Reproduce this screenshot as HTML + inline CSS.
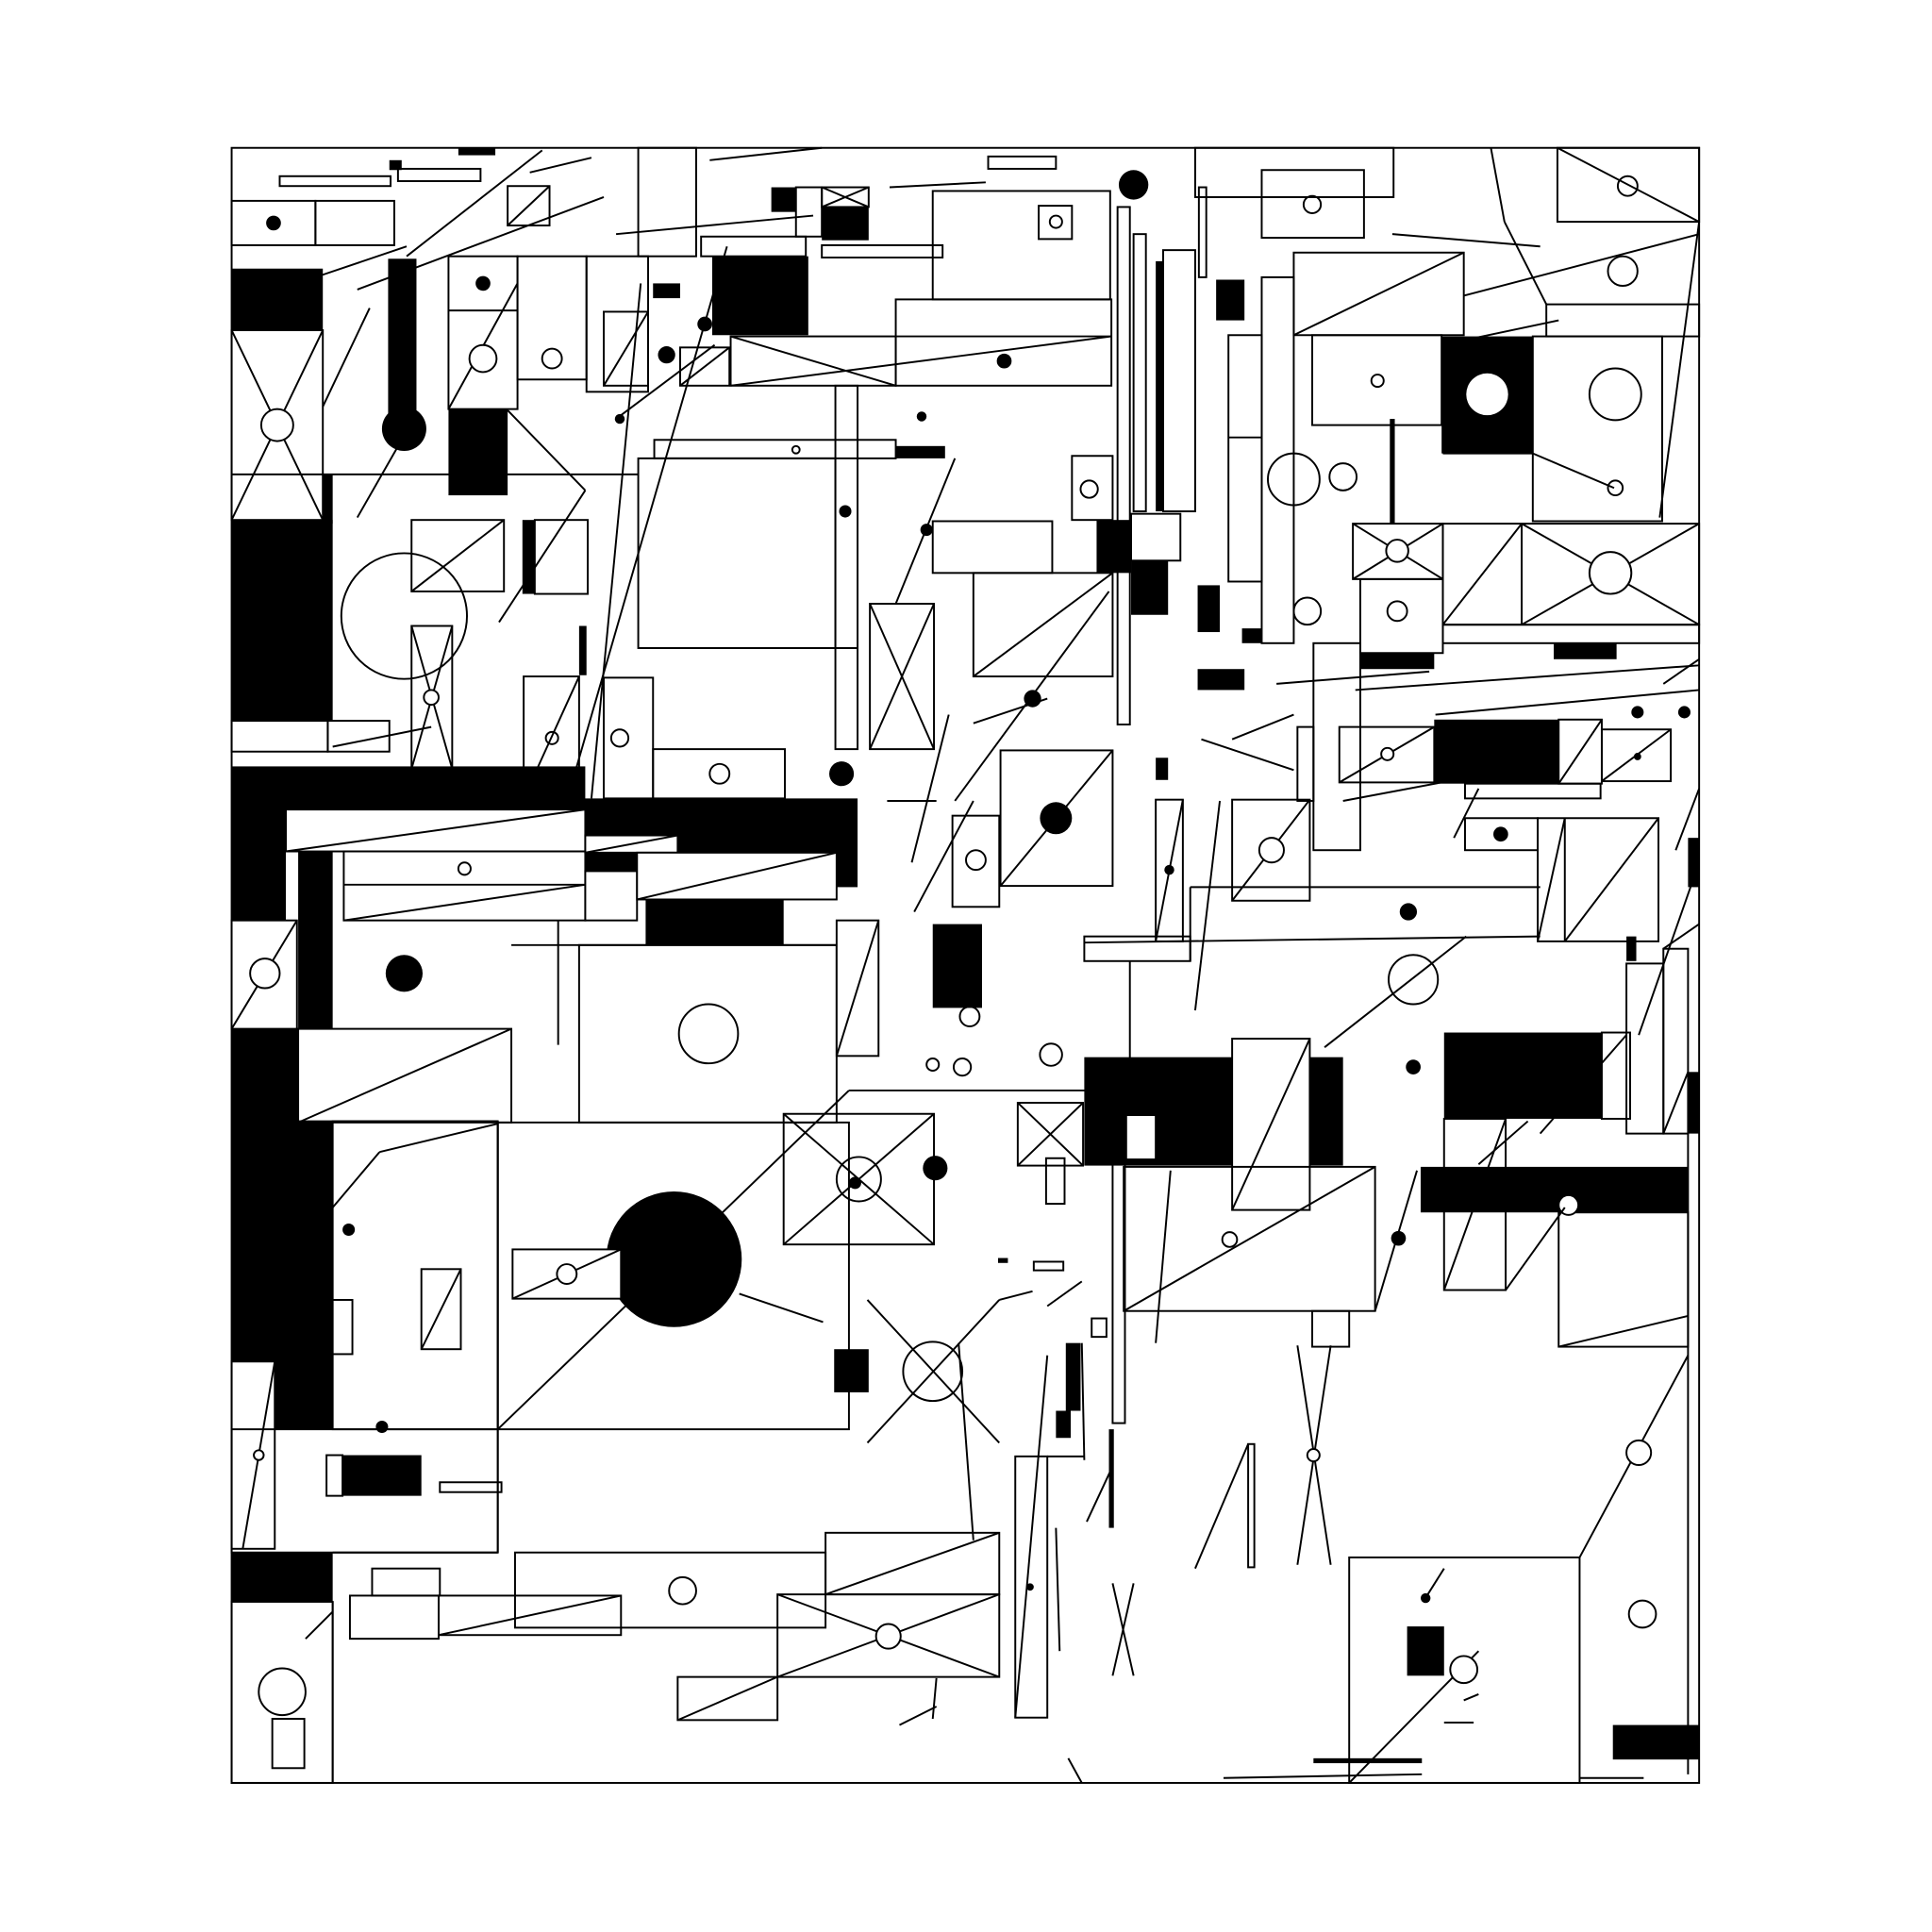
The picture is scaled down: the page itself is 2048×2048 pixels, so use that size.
<!DOCTYPE html>
<html><head><style>html,body{margin:0;padding:0;background:#fff}svg{display:block}</style></head><body>
<svg width="2048" height="2048" viewBox="0 0 1568 1568" xmlns="http://www.w3.org/2000/svg">
<rect width="1568" height="1568" fill="#fff"/>
<g fill="#000" stroke="none">
<rect x="188" y="218" width="74" height="50"/>
<rect x="188" y="422" width="82" height="163"/>
<rect x="262" y="385" width="8" height="40"/>
<rect x="188" y="622" width="287" height="36"/>
<rect x="188" y="657" width="44" height="93"/>
<rect x="242" y="690" width="28" height="145"/>
<rect x="474" y="648" width="222" height="72"/>
<rect x="524" y="730" width="112" height="37"/>
<rect x="188" y="835" width="54" height="75"/>
<rect x="188" y="910" width="82" height="195"/>
<rect x="223" y="1100" width="47" height="60"/>
<rect x="188" y="1260" width="82" height="40"/>
<rect x="315" y="210" width="23" height="150"/>
<circle cx="328" cy="348" r="18"/>
<rect x="364" y="332" width="48" height="70"/>
<rect x="578" y="208" width="78" height="64"/>
<rect x="626" y="152" width="20" height="20"/>
<rect x="667" y="168" width="38" height="27"/>
<rect x="372" y="120" width="30" height="6"/>
<rect x="727" y="362" width="40" height="10"/>
<rect x="757" y="750" width="40" height="68"/>
<rect x="880" y="858" width="210" height="88"/>
<rect x="1172" y="838" width="128" height="70"/>
<rect x="1153" y="947" width="217" height="37"/>
<rect x="1170" y="273" width="74" height="95"/>
<rect x="1164" y="584" width="101" height="52"/>
<rect x="918" y="455" width="30" height="44"/>
<rect x="890" y="422" width="28" height="43"/>
<rect x="987" y="227" width="23" height="33"/>
<rect x="972" y="543" width="38" height="17"/>
<rect x="972" y="475" width="18" height="38"/>
<rect x="1309" y="1400" width="70" height="28"/>
<rect x="1142" y="1320" width="30" height="40"/>
<rect x="677" y="1095" width="28" height="35"/>
<rect x="278" y="1181" width="64" height="33"/>
<rect x="1261" y="522" width="51" height="13"/>
<rect x="1104" y="530" width="60" height="13"/>
<rect x="938" y="212" width="6" height="203"/>
<rect x="1128" y="340" width="4" height="85"/>
<rect x="424" y="422" width="10" height="60"/>
<rect x="470" y="508" width="6" height="40"/>
<rect x="530" y="230" width="22" height="12"/>
<rect x="865" y="1090" width="12" height="55"/>
<rect x="857" y="1145" width="12" height="22"/>
<rect x="1370" y="680" width="9" height="40"/>
<rect x="1370" y="870" width="9" height="50"/>
<rect x="1320" y="760" width="8" height="20"/>
<rect x="900" y="1160" width="4" height="80"/>
<rect x="1066" y="1427" width="88" height="4"/>
<rect x="316" y="130" width="10" height="8"/>
<rect x="938" y="615" width="10" height="18"/>
<rect x="1008" y="510" width="16" height="12"/>
<rect x="810" y="1021" width="8" height="4"/>
<circle cx="547" cy="1022" r="55"/>
<circle cx="222" cy="181" r="6"/><circle cx="920" cy="150" r="12"/>
<circle cx="857" cy="664" r="13"/><circle cx="683" cy="628" r="10"/>
<circle cx="759" cy="948" r="10"/><circle cx="328" cy="873" r="8"/>
<circle cx="328" cy="790" r="15"/><circle cx="255" cy="1077" r="7"/>
<circle cx="1143" cy="740" r="7"/><circle cx="1147" cy="866" r="6"/>
<circle cx="1135" cy="1005" r="6"/><circle cx="838" cy="567" r="7"/>
<circle cx="815" cy="293" r="6"/><circle cx="541" cy="288" r="7"/>
<circle cx="572" cy="263" r="6"/><circle cx="392" cy="230" r="6"/>
<circle cx="310" cy="1158" r="5"/><circle cx="283" cy="998" r="5"/>
<circle cx="1218" cy="677" r="6"/><circle cx="1329" cy="578" r="5"/>
<circle cx="1367" cy="578" r="5"/><circle cx="686" cy="415" r="5"/>
<circle cx="752" cy="430" r="5"/><circle cx="748" cy="338" r="4"/>
<circle cx="694" cy="960" r="5"/><circle cx="1157" cy="1297" r="4"/>
<circle cx="836" cy="1288" r="3"/><circle cx="503" cy="340" r="4"/>
<circle cx="949" cy="706" r="4"/><circle cx="1329" cy="614" r="3"/>
</g>
<g fill="none" stroke="#000" stroke-width="1.5">
<rect x="188" y="120" width="1191" height="1327"/>
<rect x="470" y="767" width="209" height="144" fill="#fff"/><circle cx="575" cy="839" r="24"/>
<rect x="242" y="835" width="173" height="76" fill="#fff"/><line x1="242" y1="911" x2="415" y2="835"/>
<rect x="232" y="657" width="243" height="34" fill="#fff"/><line x1="232" y1="691" x2="475" y2="657"/>
<rect x="279" y="691" width="196" height="56" fill="#fff"/><line x1="279" y1="718" x2="475" y2="718"/><line x1="279" y1="747" x2="475" y2="718"/><circle cx="377" cy="705" r="5"/>
<rect x="475" y="678" width="75" height="14" fill="#fff"/><line x1="475" y1="692" x2="550" y2="678"/>
<rect x="475" y="707" width="42" height="40" fill="#fff"/>
<rect x="517" y="692" width="162" height="38" fill="#fff"/><line x1="517" y1="730" x2="679" y2="692"/>
<rect x="530" y="608" width="107" height="40" fill="#fff"/><circle cx="584" cy="628" r="8" fill="#fff"/>
<rect x="188" y="268" width="74" height="154"/><line x1="188" y1="268" x2="262" y2="422"/><line x1="262" y1="268" x2="188" y2="422"/><circle cx="225" cy="345" r="13" fill="#fff"/>
<rect x="188" y="585" width="78" height="25"/><rect x="266" y="585" width="50" height="25"/>
<rect x="188" y="747" width="53" height="88" fill="#fff"/><line x1="188" y1="835" x2="241" y2="747"/><circle cx="215" cy="790" r="12" fill="#fff"/>
<rect x="188" y="1105" width="35" height="152"/><line x1="197" y1="1257" x2="223" y2="1105"/><circle cx="210" cy="1181" r="4" fill="#fff"/>
<rect x="224" y="1055" width="62" height="44"/>
<rect x="270" y="910" width="134" height="250"/><line x1="270" y1="980" x2="308" y2="935"/><line x1="308" y1="935" x2="404" y2="912"/>
<rect x="342" y="1030" width="32" height="65"/><line x1="342" y1="1095" x2="374" y2="1030"/>
<rect x="404" y="911" width="285" height="249"/><line x1="404" y1="1160" x2="689" y2="885"/>
<rect x="416" y="1014" width="88" height="40" fill="#fff"/><line x1="416" y1="1054" x2="504" y2="1014"/><circle cx="460" cy="1034" r="8" fill="#fff"/>
<rect x="636" y="904" width="122" height="106"/><line x1="636" y1="904" x2="758" y2="1010"/><line x1="758" y1="904" x2="636" y2="1010"/><circle cx="697" cy="957" r="18"/>
<circle cx="757" cy="1113" r="24"/><line x1="704" y1="1055" x2="811" y2="1171"/><line x1="811" y1="1055" x2="704" y2="1171"/>
<rect x="188" y="1160" width="216" height="100"/>
<rect x="265" y="1181" width="13" height="33"/>
<rect x="357" y="1203" width="50" height="8"/>
<rect x="188" y="1300" width="82" height="147"/><circle cx="229" cy="1373" r="19"/><rect x="221" y="1395" width="26" height="40"/>
<rect x="284" y="1295" width="72" height="35"/><rect x="302" y="1273" width="55" height="22"/>
<line x1="356" y1="1327" x2="504" y2="1295"/><rect x="356" y="1295" width="148" height="32"/>
<rect x="418" y="1260" width="252" height="61"/><circle cx="554" cy="1291" r="11"/>
<rect x="670" y="1244" width="141" height="50"/><line x1="670" y1="1294" x2="811" y2="1244"/>
<rect x="631" y="1294" width="180" height="67"/><line x1="631" y1="1294" x2="811" y2="1361"/><line x1="811" y1="1294" x2="631" y2="1361"/><circle cx="721" cy="1328" r="10" fill="#fff"/>
<rect x="550" y="1361" width="81" height="35"/><line x1="550" y1="1396" x2="631" y2="1361"/>
<rect x="824" y="1182" width="26" height="212"/><line x1="824" y1="1394" x2="850" y2="1100"/>
<rect x="1095" y="1264" width="187" height="183"/><line x1="1095" y1="1447" x2="1200" y2="1340"/><circle cx="1188" cy="1355" r="11" fill="#fff"/>
<line x1="1282" y1="1264" x2="1370" y2="1100"/><circle cx="1330" cy="1179" r="10" fill="#fff"/><circle cx="1333" cy="1310" r="11"/>
<line x1="1370" y1="920" x2="1370" y2="1440"/>
<rect x="1265" y="984" width="105" height="109"/><line x1="1265" y1="1093" x2="1370" y2="1068"/>
<rect x="1172" y="908" width="50" height="139"/><line x1="1172" y1="1047" x2="1222" y2="908"/>
<rect x="1000" y="843" width="63" height="139" fill="#fff"/><line x1="1000" y1="982" x2="1063" y2="843"/>
<rect x="912" y="947" width="204" height="117"/><line x1="912" y1="1064" x2="1116" y2="947"/><circle cx="998" cy="1006" r="6" fill="#fff"/>
<rect x="914" y="905" width="24" height="36" fill="#fff"/>
<rect x="1065" y="1064" width="30" height="29"/>
<rect x="1300" y="838" width="23" height="70" fill="#fff"/>
<line x1="1053" y1="1092" x2="1080" y2="1270"/><line x1="1080" y1="1092" x2="1053" y2="1270"/><circle cx="1066" cy="1181" r="5" fill="#fff"/>
<rect x="1013" y="1172" width="5" height="100"/>
<rect x="903" y="940" width="10" height="215"/>
<rect x="826" y="895" width="53" height="51"/><line x1="826" y1="895" x2="879" y2="946"/><line x1="879" y1="895" x2="826" y2="946"/>
<rect x="880" y="760" width="86" height="20"/>
<line x1="880" y1="765" x2="1250" y2="760"/>
<rect x="1050" y="205" width="138" height="67"/><line x1="1050" y1="272" x2="1188" y2="205"/>
<rect x="1065" y="272" width="105" height="73"/><circle cx="1118" cy="309" r="5"/>
<circle cx="1207" cy="320" r="17" fill="#fff" stroke="none"/>
<rect x="1244" y="273" width="105" height="150"/><circle cx="1311" cy="320" r="21"/>
<rect x="1264" y="120" width="115" height="60"/><line x1="1264" y1="120" x2="1379" y2="180"/><circle cx="1321" cy="151" r="8"/>
<rect x="1255" y="247" width="124" height="26"/>
<rect x="1024" y="138" width="83" height="55"/><circle cx="1065" cy="166" r="7"/>
<rect x="970" y="120" width="161" height="40"/>
<rect x="1098" y="425" width="73" height="45"/><line x1="1098" y1="425" x2="1171" y2="470"/><line x1="1171" y1="425" x2="1098" y2="470"/><circle cx="1134" cy="447" r="9" fill="#fff"/>
<rect x="1171" y="425" width="208" height="82"/><line x1="1171" y1="507" x2="1235" y2="425"/><line x1="1235" y1="425" x2="1379" y2="507"/><line x1="1235" y1="507" x2="1379" y2="425"/><line x1="1235" y1="425" x2="1235" y2="507"/><circle cx="1307" cy="465" r="17" fill="#fff"/>
<rect x="1171" y="507" width="208" height="15"/>
<rect x="1104" y="470" width="67" height="60"/><circle cx="1134" cy="496" r="8"/>
<rect x="1087" y="590" width="77" height="45"/><line x1="1087" y1="635" x2="1164" y2="590"/><circle cx="1126" cy="612" r="5" fill="#fff"/>
<rect x="1265" y="584" width="35" height="52"/><line x1="1265" y1="636" x2="1300" y2="584"/>
<rect x="1300" y="592" width="56" height="42"/><line x1="1300" y1="634" x2="1356" y2="592"/>
<rect x="1248" y="664" width="98" height="100"/><line x1="1270" y1="764" x2="1346" y2="664"/><line x1="1248" y1="764" x2="1270" y2="664"/><line x1="1270" y1="664" x2="1270" y2="764"/>
<rect x="1189" y="664" width="59" height="26"/>
<rect x="1000" y="649" width="63" height="82"/><line x1="1000" y1="731" x2="1063" y2="649"/><circle cx="1032" cy="690" r="10" fill="#fff"/>
<rect x="938" y="649" width="22" height="115"/><line x1="938" y1="764" x2="960" y2="649"/>
<rect x="812" y="609" width="91" height="110"/><line x1="812" y1="719" x2="903" y2="609"/>
<rect x="773" y="662" width="38" height="74"/><circle cx="792" cy="698" r="8" fill="#fff"/>
<rect x="679" y="747" width="34" height="110" fill="#fff"/><line x1="679" y1="857" x2="713" y2="747"/>
<rect x="706" y="490" width="52" height="118"/><line x1="706" y1="490" x2="758" y2="608"/><line x1="758" y1="490" x2="706" y2="608"/>
<rect x="790" y="465" width="113" height="84"/><line x1="790" y1="549" x2="903" y2="465"/>
<rect x="757" y="423" width="97" height="42"/>
<rect x="727" y="243" width="175" height="70"/><line x1="593" y1="313" x2="902" y2="273"/><line x1="727" y1="273" x2="902" y2="273"/>
<rect x="593" y="273" width="134" height="40"/><line x1="593" y1="273" x2="727" y2="313"/>
<rect x="531" y="357" width="196" height="15"/><circle cx="646" cy="365" r="3"/>
<rect x="518" y="372" width="160" height="154"/>
<line x1="518" y1="526" x2="696" y2="526"/><rect x="678" y="313" width="18" height="295"/>
<rect x="490" y="550" width="40" height="98"/><circle cx="503" cy="599" r="7"/>
<rect x="425" y="549" width="45" height="99"/><line x1="425" y1="648" x2="470" y2="549"/><circle cx="448" cy="599" r="5"/>
<rect x="334" y="422" width="75" height="58" fill="#fff"/><line x1="334" y1="480" x2="409" y2="422"/>
<rect x="434" y="422" width="43" height="60"/>
<rect x="334" y="508" width="33" height="116"/><line x1="334" y1="508" x2="367" y2="624"/><line x1="367" y1="508" x2="334" y2="624"/><circle cx="350" cy="566" r="6" fill="#fff"/>
<circle cx="328" cy="500" r="51"/>
<rect x="364" y="208" width="56" height="124"/><line x1="364" y1="252" x2="420" y2="252"/><line x1="364" y1="332" x2="420" y2="230"/><circle cx="392" cy="291" r="11" fill="#fff"/>
<rect x="420" y="208" width="56" height="100"/><circle cx="448" cy="291" r="8"/>
<rect x="476" y="208" width="50" height="110"/><rect x="490" y="253" width="36" height="60"/><line x1="490" y1="313" x2="526" y2="253"/>
<rect x="552" y="282" width="40" height="31"/><line x1="552" y1="313" x2="592" y2="282"/>
<rect x="256" y="163" width="64" height="36"/><rect x="188" y="163" width="68" height="36"/>
<rect x="227" y="143" width="90" height="8"/><rect x="323" y="137" width="67" height="10"/>
<rect x="412" y="151" width="34" height="32"/><line x1="412" y1="183" x2="446" y2="151"/>
<rect x="518" y="120" width="47" height="88"/>
<rect x="569" y="192" width="85" height="16"/><rect x="646" y="152" width="21" height="40"/><rect x="667" y="152" width="38" height="16"/><line x1="667" y1="152" x2="705" y2="168"/><line x1="705" y1="152" x2="667" y2="168"/>
<rect x="667" y="199" width="98" height="10"/>
<rect x="757" y="155" width="144" height="88"/><rect x="843" y="167" width="27" height="27"/><circle cx="857" cy="180" r="5"/>
<rect x="802" y="127" width="55" height="10"/>
<rect x="870" y="370" width="33" height="52"/><circle cx="884" cy="397" r="7"/>
<rect x="907" y="168" width="10" height="420"/><rect x="920" y="190" width="10" height="225"/>
<rect x="944" y="203" width="26" height="212"/>
<rect x="918" y="417" width="40" height="38"/>
<rect x="973" y="152" width="6" height="73"/>
<rect x="997" y="272" width="27" height="200"/><line x1="997" y1="355" x2="1024" y2="355"/>
<rect x="1024" y="225" width="26" height="297"/><circle cx="1050" cy="389" r="21"/><circle cx="1090" cy="387" r="11"/><circle cx="1061" cy="496" r="11"/>
<rect x="1053" y="590" width="13" height="60"/>
<rect x="1066" y="522" width="38" height="168"/>
<rect x="1189" y="636" width="110" height="12"/>
<rect x="1320" y="782" width="30" height="138"/><rect x="1350" y="770" width="20" height="150"/><line x1="1350" y1="920" x2="1370" y2="870"/>
<line x1="1379" y1="180" x2="1347" y2="420"/>
<circle cx="1317" cy="220" r="12"/><circle cx="1311" cy="396" r="6"/>
<line x1="1171" y1="368" x2="1244" y2="368"/><line x1="1244" y1="368" x2="1310" y2="396"/>
<circle cx="1147" cy="795" r="20"/><circle cx="1273" cy="978" r="8" fill="#fff"/>
<circle cx="853" cy="856" r="9"/><circle cx="787" cy="825" r="8"/><circle cx="757" cy="864" r="5"/><circle cx="781" cy="866" r="7"/>
<rect x="849" y="940" width="15" height="37"/><rect x="839" y="1024" width="24" height="7"/>
<rect x="886" y="1070" width="12" height="15"/>
<line x1="188" y1="385" x2="518" y2="385"/><line x1="188" y1="910" x2="404" y2="910"/>
<line x1="404" y1="911" x2="404" y2="1260"/><line x1="270" y1="1300" x2="270" y2="1447"/>
<line x1="270" y1="1260" x2="404" y2="1260"/>
<line x1="689" y1="885" x2="917" y2="885"/><line x1="917" y1="780" x2="917" y2="885"/>
<line x1="453" y1="747" x2="453" y2="848"/><line x1="415" y1="767" x2="679" y2="767"/>
<line x1="576" y1="130" x2="667" y2="120"/><line x1="722" y1="152" x2="800" y2="148"/>
<line x1="270" y1="606" x2="350" y2="590"/><line x1="500" y1="340" x2="580" y2="280"/>
<line x1="460" y1="650" x2="590" y2="200"/><line x1="480" y1="648" x2="520" y2="230"/>
<line x1="600" y1="1050" x2="668" y2="1073"/><line x1="790" y1="587" x2="850" y2="567"/>
<line x1="775" y1="650" x2="900" y2="480"/><line x1="970" y1="820" x2="990" y2="650"/>
<line x1="1075" y1="850" x2="1190" y2="760"/><line x1="1116" y1="1064" x2="1150" y2="950"/>
<line x1="1222" y1="1047" x2="1270" y2="980"/><line x1="938" y1="1090" x2="950" y2="950"/>
<line x1="970" y1="1273" x2="1013" y2="1172"/><line x1="857" y1="1240" x2="860" y2="1340"/>
<line x1="882" y1="1235" x2="903" y2="1190"/><line x1="903" y1="1285" x2="920" y2="1360"/><line x1="920" y1="1285" x2="903" y2="1360"/>
<line x1="993" y1="1443" x2="1154" y2="1440"/><line x1="1282" y1="1443" x2="1334" y2="1443"/>
<line x1="778" y1="1090" x2="790" y2="1250"/><line x1="811" y1="1055" x2="838" y2="1048"/>
<line x1="1210" y1="120" x2="1221" y2="180"/><line x1="1221" y1="180" x2="1255" y2="247"/><line x1="1188" y1="240" x2="1379" y2="190"/>
<line x1="1100" y1="560" x2="1379" y2="540"/><line x1="1036" y1="555" x2="1160" y2="545"/>
<line x1="1165" y1="580" x2="1379" y2="560"/><line x1="1090" y1="650" x2="1250" y2="620"/>
<line x1="966" y1="720" x2="1250" y2="720"/><line x1="966" y1="720" x2="966" y2="780"/>
<line x1="1350" y1="770" x2="1379" y2="750"/>
<line x1="290" y1="235" x2="490" y2="160"/><line x1="330" y1="208" x2="440" y2="122"/>
<line x1="500" y1="190" x2="660" y2="175"/><line x1="430" y1="140" x2="480" y2="128"/>
<line x1="256" y1="225" x2="330" y2="200"/><line x1="600" y1="115" x2="600" y2="115"/>
<line x1="290" y1="420" x2="330" y2="350"/><line x1="262" y1="330" x2="300" y2="250"/>
<line x1="405" y1="505" x2="475" y2="398"/><line x1="412" y1="333" x2="475" y2="398"/>
<line x1="742" y1="740" x2="790" y2="650"/><line x1="720" y1="650" x2="760" y2="650"/>
<line x1="740" y1="700" x2="770" y2="580"/><line x1="727" y1="490" x2="775" y2="372"/>
<line x1="1000" y1="600" x2="1050" y2="580"/><line x1="975" y1="600" x2="1050" y2="625"/>
<line x1="1180" y1="680" x2="1200" y2="640"/><line x1="1360" y1="690" x2="1379" y2="640"/>
<line x1="1330" y1="840" x2="1379" y2="700"/><line x1="1250" y1="920" x2="1320" y2="840"/>
<line x1="1170" y1="280" x2="1265" y2="260"/><line x1="1130" y1="190" x2="1250" y2="200"/>
<line x1="1379" y1="535" x2="1350" y2="555"/>
<line x1="850" y1="1060" x2="878" y2="1040"/><line x1="878" y1="1090" x2="880" y2="1185"/>
<line x1="850" y1="1182" x2="880" y2="1182"/>
<line x1="1172" y1="1398" x2="1196" y2="1398"/><line x1="1188" y1="1380" x2="1200" y2="1375"/>
<line x1="1172" y1="1273" x2="1155" y2="1300"/>
<line x1="730" y1="1400" x2="760" y2="1385"/><line x1="760" y1="1362" x2="757" y2="1395"/>
<line x1="867" y1="1427" x2="878" y2="1447"/>
<line x1="248" y1="1330" x2="270" y2="1308"/>
<line x1="1200" y1="945" x2="1240" y2="910"/>
</g>
</svg>
</body></html>
